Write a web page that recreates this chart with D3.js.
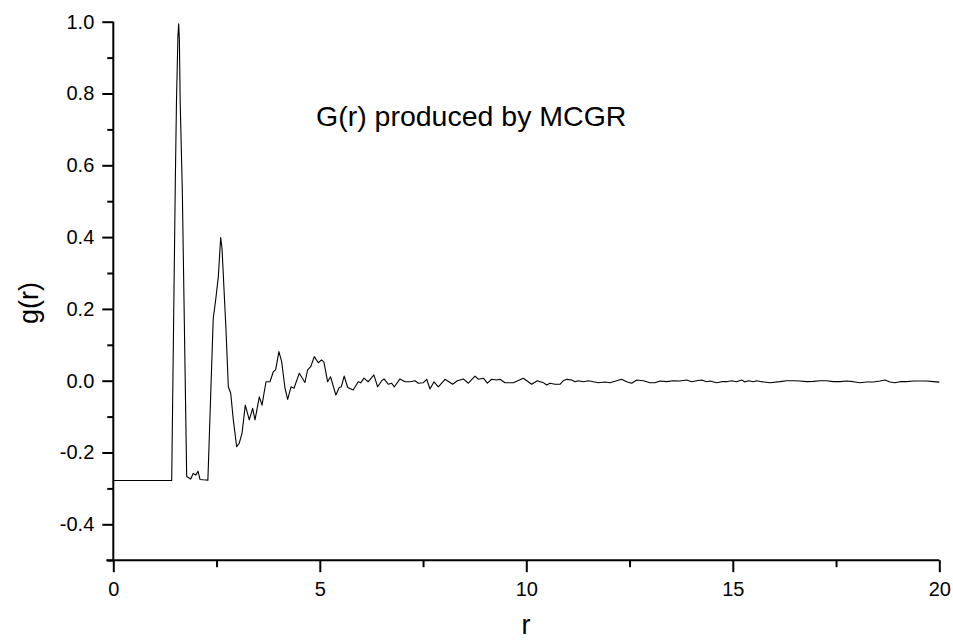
<!DOCTYPE html>
<html>
<head>
<meta charset="utf-8">
<script src="https://cdn.jsdelivr.net/npm/d3@7"></script>
<style>
  html, body { margin: 0; padding: 0; background: #fff; }
  svg { display: block; font-family: "Liberation Sans", Arial, sans-serif; }
</style>
</head>
<body>
<svg id="chart" width="953" height="641"></svg>
<script>
// ---- data ----
const rValues = [
  0, 1.414, 1.502, 1.53, 1.565, 1.583, 1.60, 1.619, 1.671, 1.777,
  1.874, 1.937, 1.995, 2.051, 2.099, 2.18, 2.29,
  2.42, 2.479, 2.543, 2.60, 2.632, 2.729, 2.785, 2.843, 2.906, 2.987,
  3.05, 3.116, 3.196, 3.293, 3.374, 3.431, 3.536, 3.601, 3.697, 3.794,
  3.874, 3.93, 4.01, 4.077, 4.157, 4.222, 4.303, 4.375, 4.504,
  4.64, 4.705, 4.78, 4.867, 4.964, 5.044, 5.10, 5.19, 5.26, 5.39,
  5.47, 5.52, 5.59, 5.675, 5.81, 5.93, 5.99, 6.07, 6.17, 6.31, 6.40, 6.50,
  6.555, 6.66, 6.74, 6.805, 6.942, 7.063, 7.184, 7.305, 7.386, 7.507,
  7.588, 7.669, 7.765, 7.87, 8.032, 8.217, 8.33, 8.475, 8.597, 8.758,
  8.839, 8.96, 9.057, 9.162, 9.283, 9.363, 9.484, 9.686, 9.928, 10.13,
  10.267, 10.413, 10.493, 10.574, 10.695, 10.816, 10.897, 10.978,
  11.099, 11.18, 11.26, 11.381, 11.502, 11.623, 11.744, 11.906, 12.027,
  12.188, 12.309, 12.43, 12.551, 12.672, 12.834, 12.995, 13.116, 13.237,
  13.399, 13.56, 13.721, 13.883, 14.004, 14.125, 14.246, 14.367, 14.448,
  14.609, 14.73, 14.851, 14.973, 15.094, 15.215, 15.295, 15.376, 15.497,
  15.577, 15.698, 15.9, 16.142, 16.304, 16.465, 16.627, 16.788, 16.95,
  17.111, 17.272, 17.434, 17.595, 17.756, 17.918, 18.079, 18.24, 18.402,
  18.563, 18.684, 18.805, 18.926, 19.047, 19.209, 19.37, 19.532, 19.693,
  19.854, 20.0
];
const gValues = [
  -0.278, -0.278, 0.559, 0.78, 0.96, 0.994, 0.95, 0.78, 0.53, -0.267,
  -0.274, -0.258, -0.263, -0.252, -0.275, -0.276, -0.277,
  0.174, 0.225, 0.29, 0.399, 0.369, 0.141, -0.017, -0.035, -0.109, -0.184,
  -0.174, -0.147, -0.068, -0.109, -0.077, -0.109, -0.045, -0.068, -0.003, -0.003,
  0.025, 0.03, 0.081, 0.053, -0.021, -0.052, -0.017, -0.021, 0.021,
  -0.005, 0.03, 0.039, 0.067, 0.05, 0.058, 0.052, -0.003, 0.011, -0.04,
  -0.019, -0.017, 0.013, -0.019, -0.026, -0.003, -0.006, 0.007, -0.003, 0.016, -0.017, 0.0,
  0.005, -0.010, -0.007, -0.017, 0.005, -0.003, -0.003, 0.0, -0.007, -0.0055,
  0.004, -0.023, -0.003, -0.017, 0.004, -0.010, 0.0, 0.005, -0.007, 0.013,
  0.004, 0.007, -0.007, 0.004, 0.002, 0.004, -0.0055, -0.0055, 0.007, -0.010,
  0.0, -0.0055, -0.012, -0.0073, -0.010, -0.010, 0.0001, 0.0038,
  0.002, -0.0027, 0.0, -0.0027, 0.0, -0.0027, -0.0055, -0.0036, -0.0055,
  0.0, 0.0038, -0.0027, -0.0073, 0.002, 0.0, -0.0055, -0.0055, -0.001,
  -0.0027, 0.0, -0.001, 0.002, -0.0027, 0.0, 0.002, -0.0027, -0.001,
  -0.0055, -0.0027, -0.0027, 0.0, -0.0027, 0.002, -0.0036, 0.0, -0.0027,
  0.0, -0.0027, -0.0055, -0.0027, 0.0, 0.0, -0.001, -0.0027, -0.002,
  0.0, 0.0, -0.0027, -0.0027, -0.001, -0.0027, -0.0055, -0.0036, -0.0036,
  -0.001, 0.002, -0.0036, -0.0055, -0.0027, -0.0027, -0.001, -0.001, -0.001,
  -0.0027, -0.004
];
const xMajorTicks = [0, 5, 10, 15, 20];
const xMinorTicks = [2.5, 7.5, 12.5, 17.5];
const yMajorTicks = [-0.4, -0.2, 0.0, 0.2, 0.4, 0.6, 0.8, 1.0];
const yMinorTicks = [-0.5, -0.3, -0.1, 0.1, 0.3, 0.5, 0.7, 0.9];
const titleText = "G(r) produced by MCGR";
const xLabel = "r";
const yLabel = "g(r)";

// ---- drawing ----
const svg = d3.select("#chart");
const x = d3.scaleLinear().domain([0, 20]).range([113.3, 939.3]);
const y = d3.scaleLinear().domain([-0.5, 1.0]).range([560.2, 21.7]);
const tickFont = "20px";
const yFmt = d => d.toFixed(1);   // plain hyphen minus, as in the reference

// line
const points = rValues.map((r, i) => [r, gValues[i]]);
svg.append("path")
  .datum(points)
  .attr("fill", "none")
  .attr("stroke", "#000")
  .attr("stroke-width", 1.1)
  .attr("stroke-linejoin", "round")
  .attr("d", d3.line().x(d => x(d[0])).y(d => y(d[1])));

// y axis
const yAxisG = svg.append("g").attr("transform", `translate(${x(0)},0)`);
yAxisG.call(d3.axisLeft(y).tickValues(yMinorTicks).tickSize(6).tickSizeOuter(0).tickFormat(""));
yAxisG.call(g => g.select(".domain").remove());
const yMajor = svg.append("g").attr("transform", `translate(${x(0)},0)`)
  .call(d3.axisLeft(y).tickValues(yMajorTicks).tickSize(11).tickSizeOuter(0).tickPadding(8)
    .tickFormat(yFmt));
yMajor.select(".domain").attr("d", `M0,${y(-0.5)}V${y(1.0)}`);

// x axis
const xAxisG = svg.append("g").attr("transform", `translate(0,${y(-0.5)})`);
xAxisG.call(d3.axisBottom(x).tickValues(xMinorTicks).tickSize(7).tickSizeOuter(0).tickFormat(""));
xAxisG.call(g => g.select(".domain").remove());
const xMajor = svg.append("g").attr("transform", `translate(0,${y(-0.5)})`)
  .call(d3.axisBottom(x).tickValues(xMajorTicks).tickSize(12).tickSizeOuter(0).tickPadding(10)
    .tickFormat(d => String(d)));
xMajor.select(".domain").attr("d", `M${x(0) - 7},0H${x(20)}`);

svg.selectAll(".domain, .tick line").attr("stroke", "#000").attr("stroke-width", 2);
svg.selectAll("g").attr("font-size", null).attr("font-family", null);
svg.selectAll(".tick text")
  .attr("fill", "#000")
  .attr("font-family", '"Liberation Sans", Arial, sans-serif')
  .attr("font-size", tickFont);

// title
svg.append("text")
  .attr("x", 316).attr("y", 125.5)
  .attr("font-size", 28.5)
  .attr("fill", "#000")
  .text(titleText);

// axis titles
svg.append("text")
  .attr("x", 526).attr("y", 634)
  .attr("text-anchor", "middle")
  .attr("font-size", 27)
  .attr("fill", "#000")
  .text(xLabel);

svg.append("text")
  .attr("transform", `translate(37.5,303) rotate(-90)`)
  .attr("text-anchor", "middle")
  .attr("font-size", 27)
  .attr("fill", "#000")
  .text(yLabel);
</script>
</body>
</html>
